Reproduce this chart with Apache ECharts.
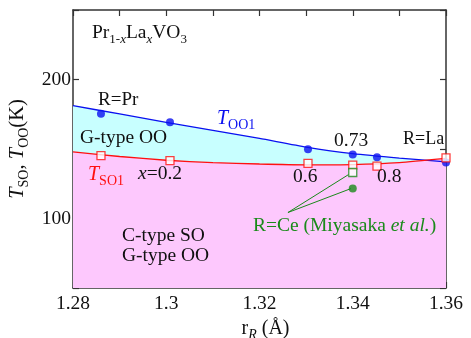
<!DOCTYPE html>
<html><head><meta charset="utf-8">
<script src="https://cdn.jsdelivr.net/npm/echarts@6/dist/echarts.min.js"></script>
<style>html,body{margin:0;padding:0;background:#fff}#c{width:471px;height:338px}</style>
</head><body><div id="c"></div>
<script>
// ---- data ----
const rPoints = [1.286, 1.3008, 1.3304, 1.3400, 1.3452, 1.360];
const tOO1 = [175.4, 169.3, 149.8, 146.0, 144.0, 140.2];
const tSO1 = [145.2, 141.6, 139.6, 138.4, 137.7, 143.6];
const fitR = [1.28, 1.29, 1.30, 1.31, 1.32, 1.33, 1.34, 1.35, 1.36];
const fitOO = [181.2, 175.2, 169.2, 163.4, 157.6, 151.4, 146.6, 143.4, 140.8];
const fitSO = [148.0, 144.6, 141.9, 140.2, 139.2, 138.6, 138.8, 140.2, 143.2];
const ceR = [1.34];
const ceSquare = [133.1];
const ceCircle = [121.5];
const ceLeaderR = [1.3261, 1.3391, 1.3261, 1.3396];
const ceLeaderT = [104.3, 131.6, 104.3, 121.5];
const xTicks = [1.28, 1.30, 1.32, 1.34, 1.36];
const yTicks = [100, 200];

const F = "'Liberation Serif', serif";
function rich(color, size) {
  const sub = Math.round(size * 0.68);
  return {
    n: {fontFamily: F, fontSize: size, color, lineHeight: size + 6, verticalAlign: 'middle'},
    i: {fontFamily: F, fontSize: size, color, fontStyle: 'italic', lineHeight: size + 6, verticalAlign: 'middle'},
    s: {fontFamily: F, fontSize: sub, color, lineHeight: sub, verticalAlign: 'bottom'},
    si: {fontFamily: F, fontSize: sub, color, fontStyle: 'italic', lineHeight: sub, verticalAlign: 'bottom'}
  };
}
function txt(x, y, text, color, size) {
  return {type: 'text', x, y, z: 100, style: {text, fontFamily: F, fontSize: size || 19.5, align: 'left', verticalAlign: 'middle', rich: rich(color, size || 19.5), fill: color}};
}
const BLUE = '#0a10f0', RED = '#ff1010', GREEN = '#1a8a1a';

const fmtX = v => {
  const k = Math.round(v * 100);
  return xTicks.some(t => Math.round(t * 100) === k) ? String(parseFloat(v.toFixed(2))) : '';
};
const fmtY = v => yTicks.includes(Math.round(v)) ? String(Math.round(v)) : '';
const axisLine = {show: true, lineStyle: {color: '#333', width: 1.5}};
const tick = {show: true, inside: true, length: 6, lineStyle: {color: '#333', width: 1.2}};

const zip = (a, b) => a.map((v, i) => [v, b[i]]);

const option = {
  animation: false,
  textStyle: {fontFamily: F},
  grid: {left: 73, right: 25, top: 10, bottom: 50, containLabel: false, outerBoundsMode: 'none'},
  xAxis: [
    {type: 'value', min: 1.28, max: 1.36, interval: 0.01, axisLine, axisTick: tick, splitLine: {show: false},
     axisLabel: {formatter: fmtX, fontFamily: F, fontSize: 19.5, color: '#111', margin: 6, showMinLabel: true, showMaxLabel: true},
     name: '{n|r}{si|R}{n| (Å)}', nameLocation: 'middle', nameGap: 26,
     nameTextStyle: {fontFamily: F, padding: [0, 0, 0, 12], rich: rich('#111', 20)}},
    {type: 'value', position: 'top', min: 1.28, max: 1.36, interval: 0.01, axisLine, axisTick: tick, axisLabel: {show: false}, splitLine: {show: false}}
  ],
  yAxis: [
    {type: 'value', min: 50, max: 250, interval: 50, axisLine, axisTick: tick, splitLine: {show: false},
     axisLabel: {formatter: fmtY, fontFamily: F, fontSize: 19.5, color: '#111', margin: 2},
     name: '{i|T}{s|SO}{n|, }{i|T}{s|OO}{n|(K)}', nameLocation: 'middle', nameGap: 23,
     nameTextStyle: {fontFamily: F, rich: rich('#111', 20.5)}},
    {type: 'value', position: 'right', min: 50, max: 250, interval: 50, axisLine, axisTick: tick, axisLabel: {show: false}, splitLine: {show: false}}
  ],
  series: [
    {type: 'line', data: zip(fitR, fitOO), smooth: 0.2, symbol: 'none', lineStyle: {width: 0}, areaStyle: {color: '#c8ffff', opacity: 1, origin: 'start'}, z: 1},
    {type: 'line', data: zip(fitR, fitSO), smooth: 0.2, symbol: 'none', lineStyle: {width: 0}, areaStyle: {color: '#fdc8fd', opacity: 1, origin: 'start'}, z: 1},
    {type: 'line', data: zip(fitR, fitOO), smooth: 0.2, symbol: 'none', lineStyle: {color: BLUE, width: 1.3}, z: 3},
    {type: 'line', data: zip(fitR, fitSO), smooth: 0.2, symbol: 'none', lineStyle: {color: RED, width: 1.3}, z: 3},
    {type: 'line', data: zip(ceLeaderR.slice(0, 2), ceLeaderT.slice(0, 2)), symbol: 'none', lineStyle: {color: GREEN, width: 1}, z: 3},
    {type: 'line', data: zip(ceLeaderR.slice(2), ceLeaderT.slice(2)), symbol: 'none', lineStyle: {color: GREEN, width: 1}, z: 3},
    {type: 'scatter', data: zip(rPoints, tOO1), symbol: 'circle', symbolSize: 8, itemStyle: {color: BLUE}, clip: false, z: 5},
    {type: 'scatter', data: zip(rPoints, tSO1), symbol: 'rect', symbolSize: 8, itemStyle: {color: '#fff', borderColor: RED, borderWidth: 1.3}, clip: false, z: 6},
    {type: 'scatter', data: zip(ceR, ceSquare), symbol: 'rect', symbolSize: 8, itemStyle: {color: '#fff', borderColor: GREEN, borderWidth: 1.3}, z: 6},
    {type: 'scatter', data: zip(ceR, ceCircle), symbol: 'circle', symbolSize: 8, itemStyle: {color: GREEN}, z: 6}
  ],
  graphic: [
    txt(92, 33, '{n|Pr}{s|1-}{si|x}{n|La}{si|x}{n|VO}{s|3}', '#111', 19.5),
    txt(98, 100, '{n|R=Pr}', '#111', 19),
    txt(80, 138, '{n|G-type OO}', '#111', 19.5),
    txt(217, 119, '{i|T}{s|OO1}', BLUE, 20),
    txt(88, 175, '{i|T}{s|SO1}', RED, 20),
    txt(138, 174, '{i|x}{n|=0.2}', '#111', 19.5),
    txt(293, 177, '{n|0.6}', '#111', 19.5),
    txt(377, 177, '{n|0.8}', '#111', 19.5),
    txt(334, 141, '{n|0.73}', '#111', 19.5),
    txt(403, 139, '{n|R=La}', '#111', 18),
    txt(253, 226, '{n|R=Ce (Miyasaka }{i|et al.}{n|)}', GREEN, 19.5),
    txt(122, 236, '{n|C-type SO}', '#111', 19.5),
    txt(122, 256, '{n|G-type OO}', '#111', 19.5)
  ]
};
echarts.init(document.getElementById('c')).setOption(option);
</script></body></html>
